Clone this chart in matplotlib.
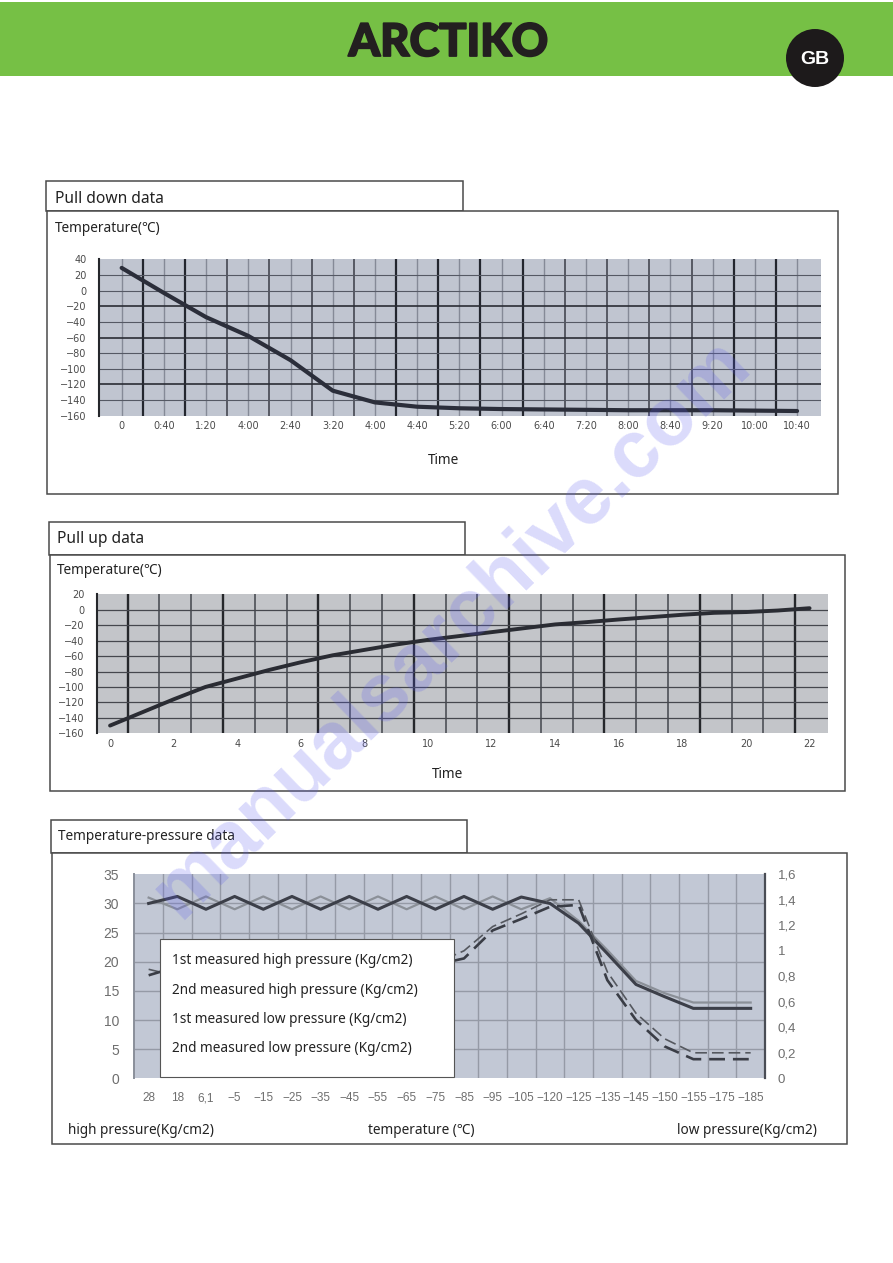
from matplotlib import pyplot as plt
from matplotlib import patheffects
from matplotlib.patches import Rectangle, Circle

W, H = 893, 1263
BODY_FONT = ['Noto Sans', 'Noto Sans CJK KR', 'DejaVu Sans']

# Pull down data
down_labels = ['0', '0:40', '1:20', '4:00', '2:40', '3:20', '4:00', '4:40', '5:20',
               '6:00', '6:40', '7:20', '8:00', '8:40', '9:20', '10:00', '10:40']
down_temp = [29, -3, -34, -58, -89, -128, -143, -148.5, -150.5, -151.5, -152,
             -152.5, -153, -153, -153, -153.5, -154]
down_yticks = [40, 20, 0, -20, -40, -60, -80, -100, -120, -140, -160]

# Pull up data
up_hours = list(range(23))
up_temp = [-150, -133, -116, -100, -89, -78, -68, -59, -52, -45, -39, -34, -29,
           -24, -19, -16, -12.6, -9.6, -6.5, -4, -3, -1, 2]
up_xticks = [0, 2, 4, 6, 8, 10, 12, 14, 16, 18, 20, 22]
up_yticks = [20, 0, -20, -40, -60, -80, -100, -120, -140, -160]

# Temperature-pressure data
tp_labels = ['28', '18', '6,1', '−5', '−15', '−25', '−35', '−45', '−55', '−65', '−75',
             '−85', '−95', '−105', '−120', '−125', '−135', '−145', '−150', '−155',
             '−175', '−185']
high_1st = [30, 31.2, 29, 31.2, 29, 31.2, 29, 31.2, 29, 31.2, 29, 31.2, 29, 31.1, 30,
            26.6, 21.4, 16.1, 14, 12, 12, 12]
high_2nd = [31, 29, 31.2, 29, 31.2, 29, 31.2, 29, 31.2, 29, 31.2, 29, 31.2, 29, 30.9,
            27, 22, 16.7, 14.6, 13, 13, 13]
low_1st = [0.808, 0.875, 0.84, 0.84, 0.84, 0.84, 0.84, 0.84, 0.84, 0.84, 0.89, 0.94, 1.16,
           1.25, 1.345, 1.36, 0.77, 0.457, 0.25, 0.15, 0.15, 0.15]
low_2nd = [0.855, 0.80, 0.84, 0.84, 0.84, 0.84, 0.84, 0.84, 0.84, 0.84, 0.90, 1.0, 1.19,
           1.29, 1.4, 1.4, 0.835, 0.51, 0.31, 0.2, 0.2, 0.2]
tp_left_ticks = [0, 5, 10, 15, 20, 25, 30, 35]
tp_right_ticks = [0, 0.2, 0.4, 0.6, 0.8, 1, 1.2, 1.4, 1.6]
tp_right_labels = ['0', '0,2', '0,4', '0,6', '0,8', '1', '1,2', '1,4', '1,6']
legend_names = ['1st measured high pressure (Kg/cm2)', '2nd measured high pressure (Kg/cm2)',
                '1st measured low pressure (Kg/cm2)', '2nd measured low pressure (Kg/cm2)']


def chart_axes(fig, left, top, right, bottom):
    return fig.add_axes([left / W, 1 - bottom / H, (right - left) / W, (bottom - top) / H])


def panel(page, tab, box, title, title_xy, size=11.2):
    # tab is the little title box, box the large frame under it
    for l, t, r, b in (tab, box):
        page.add_patch(Rectangle((l, t), r - l, b - t, fc='white', ec='#4a4a4a', lw=1.1))
    page.text(title_xy[0], title_xy[1] + 1, title, fontsize=size, color='#222222', va='center',
              family=BODY_FONT)


def label(page, x, y, text, ha='left', size=9.8):
    page.text(x, y + 1, text, fontsize=size, color='#222222', ha=ha, va='center', family=BODY_FONT)


fig = plt.figure(figsize=(W / 100, H / 100), dpi=100, facecolor='white')

# Page background with header and frames, pixel coordinates
page = fig.add_axes([0, 0, 1, 1], zorder=0)
page.set_xlim(0, W)
page.set_ylim(H, 0)
page.axis('off')
page.add_patch(Rectangle((0, 2), W, 74, fc='#76C045', ec='none'))
logo = page.text(448, 43, 'ARCTIKO', fontsize=32.5, fontweight='black', family='Lato',
                 color='#231F20', ha='center', va='center')
logo.set_path_effects([patheffects.withStroke(linewidth=1.3, foreground='#231F20')])
page.add_patch(Circle((815, 58), 29, fc='#1D1A1B', ec='none'))
page.text(814.5, 59, 'GB', fontsize=14, fontweight='bold', family='Liberation Sans',
          color='white', ha='center', va='center')

panel(page, (46, 181, 463, 211), (47, 211, 837.5, 494), 'Pull down data', (55, 198))
label(page, 55, 228, 'Temperature(℃)')
label(page, 443, 459, 'Time', ha='center')

panel(page, (49, 522, 464.5, 555), (50, 555, 844.5, 790.5), 'Pull up data', (57, 538))
label(page, 57, 570, 'Temperature(℃)')
label(page, 448, 773, 'Time', ha='center')

panel(page, (50.5, 820, 467, 853), (52, 853, 847, 1143.5), 'Temperature-pressure data',
      (58, 835), size=9.8)
label(page, 68, 1130, 'high pressure(Kg/cm2)')
label(page, 421, 1130, 'temperature (℃)', ha='center')
label(page, 677, 1130, 'low pressure(Kg/cm2)')

# Chart 1
ax1 = chart_axes(fig, 99.3, 259.3, 820.7, 415.7)
ax1.set_facecolor('#C0C5D0')
ax1.set_xlim(-0.53, 16.56)
ax1.set_ylim(-160, 40)
for i in range(len(down_labels)):
    ax1.axvline(i, color='#858A97', lw=1.0, zorder=1)
    # heavy verticals come in runs, see the reference
    heavy = i in (0, 1, 6, 7, 8, 9, 14, 15)
    if i < 16:
        ax1.axvline(i + 0.5, color='#23262E' if heavy else '#3A3D46', lw=1.6 if heavy else 1.1, zorder=2)
for v in down_yticks[1:-1]:
    heavy = v in (-20, -60, -120)
    ax1.axhline(v, color='#2A2D35' if heavy else '#555964', lw=1.2 if heavy else 0.8, zorder=2)
ax1.plot(range(len(down_temp)), down_temp, color='#2B2E3A', lw=3, solid_capstyle='round', zorder=3)
ax1.set_xticks(range(len(down_labels)), down_labels)
ax1.set_yticks(down_yticks)

# Chart 2
ax2 = chart_axes(fig, 96.7, 594.3, 827.7, 733.3)
ax2.set_facecolor('#C3C5C9')
ax2.set_xlim(-0.42, 22.57)
ax2.set_ylim(-160, 20)
for i in range(22):
    heavy = i % 3 == 0
    ax2.axvline(i + 0.55, color='#25272B' if heavy else '#43464C', lw=1.7 if heavy else 1.1, zorder=2)
for v in up_yticks[1:-1]:
    ax2.axhline(v, color='#45474D', lw=0.9, zorder=2)
ax2.plot(up_hours, up_temp, color='#2A2C33', lw=2.8, solid_capstyle='round', zorder=3)
ax2.set_xticks(up_xticks)
ax2.set_yticks(up_yticks)

for ax in (ax1, ax2):
    ax.tick_params(length=0, labelsize=7, labelcolor='#4A4A4A', pad=9)
    ax.tick_params(axis='x', pad=4)
    for side in ('top', 'right'):
        ax.spines[side].set_visible(False)
    ax.spines['bottom'].set_visible(False)
    ax.spines['left'].set_color('#25272B')
    ax.spines['left'].set_linewidth(1.5)

# Chart 3
ax3 = chart_axes(fig, 134.3, 874.3, 765, 1078.3)
ax3.set_facecolor('#C2C8D5')
ax3.set_xlim(-0.5, 21.5)
ax3.set_ylim(0, 35)
for i in range(1, 22):
    ax3.axvline(i - 0.5, color='#959AA6', lw=1.0, zorder=1)
for v in tp_left_ticks[1:-1]:
    ax3.axhline(v, color='#959AA6', lw=1.0, zorder=1)
ax3.plot(tp_labels, high_2nd, color='#8B9098', lw=1.6, zorder=3)
ax3.plot(tp_labels, high_1st, color='#3C3F49', lw=2.2, zorder=4)
ax3.set_yticks(tp_left_ticks)
ax3.tick_params(length=0, labelsize=10, labelcolor='#6E6E6E', pad=11)
ax3.tick_params(axis='x', labelsize=8.5, pad=10)
for tick_text in ax3.get_xticklabels() + ax3.get_yticklabels():
    tick_text.set_family('Liberation Sans')
for side in ('top', 'right', 'bottom'):
    ax3.spines[side].set_visible(False)
ax3.spines['left'].set_color('#8A8F9A')
ax3.spines['left'].set_linewidth(1.4)

ax3r = ax3.twinx()
ax3r.set_ylim(0, 1.6)
ax3r.plot(range(len(tp_labels)), low_2nd, color='#55585F', lw=1.2, ls=(0, (7, 3)), zorder=3)
ax3r.plot(range(len(tp_labels)), low_1st, color='#3A3D46', lw=1.9, ls=(0, (6, 3)), zorder=4)
ax3r.set_yticks(tp_right_ticks, tp_right_labels)
ax3r.tick_params(length=0, labelsize=9.5, labelcolor='#6E6E6E', pad=9)
for tick_text in ax3r.get_yticklabels():
    tick_text.set_family('Liberation Sans')
for side in ('top', 'left', 'bottom'):
    ax3r.spines[side].set_visible(False)
ax3r.spines['right'].set_color('#4A4D55')
ax3r.spines['right'].set_linewidth(1.6)

# Legend box and watermark sit on top of the charts
over = fig.add_axes([0, 0, 1, 1], zorder=5)
over.set_xlim(0, W)
over.set_ylim(H, 0)
over.axis('off')
over.patch.set_alpha(0)
over.add_patch(Rectangle((160, 938.5), 293.5, 138, fc='white', ec='#555555', lw=0.8))
for row, name in enumerate(legend_names):
    label(over, 172, 960 + row * 29.3, name)
over.text(452, 628, 'manualsarchive.com', fontsize=58, fontweight='bold', rotation=44,
          rotation_mode='anchor', family='Liberation Sans', color='#5A5AF0', alpha=0.22,
          ha='center', va='center')

fig.savefig('out.png', dpi=100)
